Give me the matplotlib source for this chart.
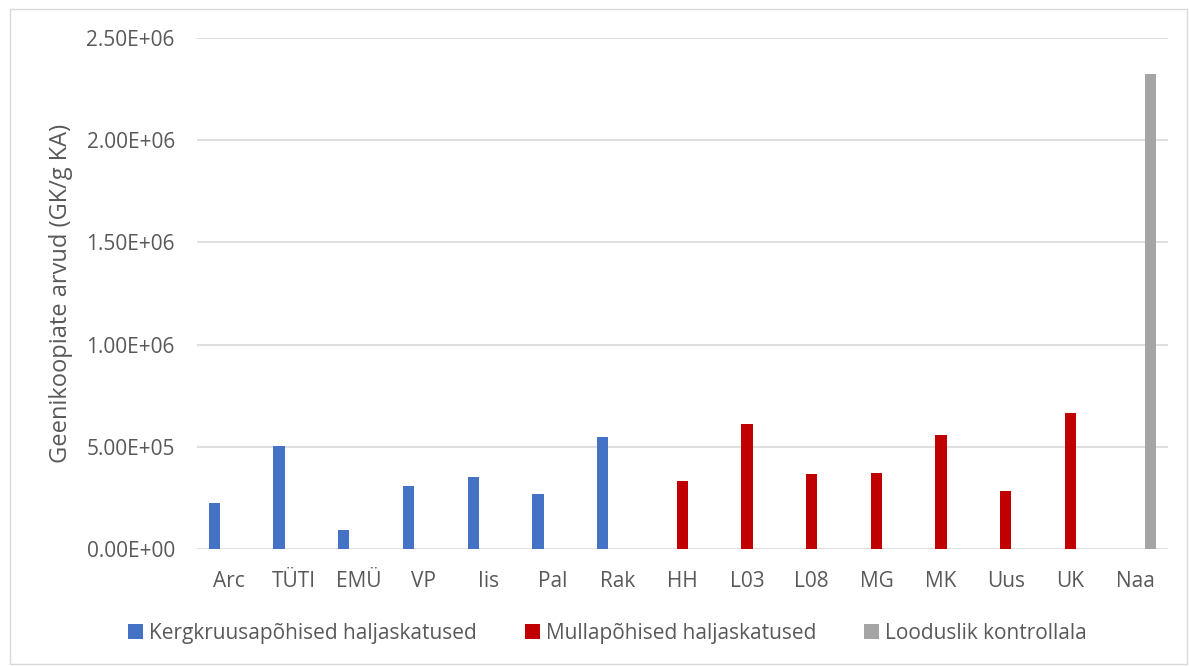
import numpy as np
import matplotlib
matplotlib.use('Agg')
from matplotlib import pyplot as plt
from matplotlib.patches import Rectangle

categories = ['Arc', 'TÜTI', 'EMÜ', 'VP', 'Iis', 'Pal', 'Rak', 'HH', 'L03',
              'L08', 'MG', 'MK', 'Uus', 'UK', 'Naa']
series_names = ['Kergkruusapõhised haljaskatused', 'Mullapõhised haljaskatused',
                'Looduslik kontrollala']
kergkruus = [2.27e5, 5.05e5, 0.92e5, 3.08e5, 3.50e5, 2.70e5, 5.49e5,
             None, None, None, None, None, None, None, None]
mulla = [None, None, None, None, None, None, None,
         3.31e5, 6.11e5, 3.67e5, 3.72e5, 5.58e5, 2.83e5, 6.63e5, None]
looduslik = [None] * 14 + [2.325e6]
ytick_labels = ['0.00E+00', '5.00E+05', '1.00E+06', '1.50E+06', '2.00E+06', '2.50E+06']
colors = ['#4472C4', '#C00000', '#A5A5A5']
text_color = '#595959'

plt.rcParams['font.family'] = ['Open Sans', 'DejaVu Sans']

fig = plt.figure(figsize=(11.89, 6.66), dpi=100)
ax = fig.add_axes([0.1657, 0.1757, 0.8163, 0.7673])

x = np.arange(len(categories))
offset = 0.232
width = 0.175
for i, (vals, name) in enumerate(zip([kergkruus, mulla, looduslik], series_names)):
    v = np.array([np.nan if a is None else a for a in vals], dtype=float)
    ax.bar(x + (i - 1) * offset, v, width=width, color=colors[i], label=name, zorder=3)

ax.set_xlim(-0.5, len(categories) - 0.5)
ax.set_ylim(0, 2.5e6)
ax.set_yticks(np.arange(0, 2.51e6, 5e5))
ax.set_yticklabels(ytick_labels)
ax.set_xticks(x)
ax.set_xticklabels(categories)
ax.tick_params(axis='both', length=0, labelsize=15, colors=text_color)
ax.tick_params(axis='y', pad=16)
ax.tick_params(axis='x', pad=16)
ax.grid(axis='y', color='#D9D9D9', linewidth=1.2, zorder=0)
for s in ax.spines.values():
    s.set_visible(False)
ax.set_ylabel('Geenikoopiate arvud (GK/g KA)', fontsize=17, color=text_color)
ax.yaxis.set_label_coords(-0.128, 0.5)

ax.legend(loc='center', bbox_to_anchor=(0.423, -0.165), ncol=3, frameon=False,
          fontsize=15, labelcolor=text_color, handlelength=0.7, handleheight=0.7,
          handletextpad=0.3, columnspacing=2.3)

fig.patches.append(Rectangle((0.0085, 0.003), 0.99, 0.984, transform=fig.transFigure,
                             fill=False, edgecolor='#D9D9D9', linewidth=1))

plt.savefig('out.png')
plt.close()
